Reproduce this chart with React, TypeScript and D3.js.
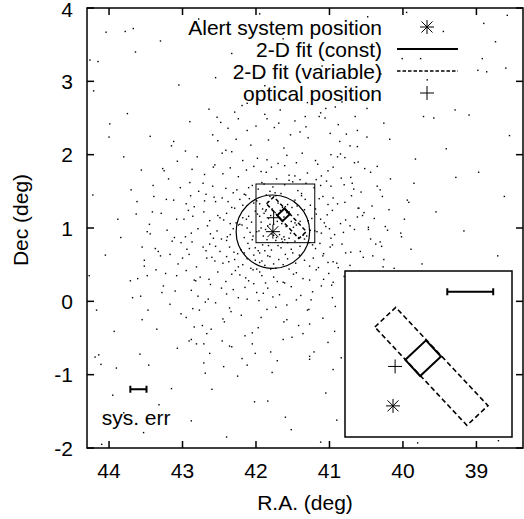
import React from "react";
import * as d3 from "d3";

const W = 524;
const H = 519;

// Axis ticks
const raTicks = [44, 43, 42, 41, 40, 39];
const decTicks = [-2, -1, 0, 1, 2, 3, 4];
const raDomain: [number, number] = [44.3, 38.366];
const decDomain: [number, number] = [-2, 4];

// Positions (R.A., Dec)
const alertPos: [number, number] = [41.77, 0.95];
const opticalPos: [number, number] = [41.76, 1.14];
const errorRadius = 0.5;

// Fitted source regions, corner lists (R.A., Dec)
const fitConst: [number, number][] = [
  [41.711, 1.172], [41.612, 1.266], [41.54, 1.188], [41.64, 1.094],
];
const fitVariable: [number, number][] = [
  [41.857, 1.33], [41.757, 1.425], [41.315, 0.951], [41.416, 0.856],
];

// Zoomed region shown in the inset
const zoomRA: [number, number] = [42.0, 41.2];
const zoomDec: [number, number] = [0.8, 1.6];

// Systematic error bars
const sysErrHalf = 0.11;
const sysErrMain: [number, number] = [43.6, -1.2];
const sysErrInset: [number, number] = [41.4, 1.5];
const sysErrLabelPos: [number, number] = [44.1, -1.68];

const legendLabels = [
  "Alert system position",
  "2-D fit (const)",
  "2-D fit (variable)",
  "optical position",
];

// Event directions around the alert position
const cloudDots: [number, number][] = [
  [42.12,-0.87],
  [42.36,-0.61],[41.80,-0.69],
  [42.05,-0.43],[42.61,-0.38],[41.51,-0.49],[42.88,-0.52],
  [42.20,-0.19],[41.62,-0.28],[42.73,-0.33],[41.93,-0.22],[41.27,-0.31],[42.45,-0.24],[43.02,-0.17],
  [41.73,-0.08],[42.55,-0.02],[41.30,-0.12],[42.12,0.03],[42.86,-0.10],[41.58,-0.05],[42.34,-0.14],[41.96,0.01],[40.92,-0.07],[42.69,-0.01],[41.85,-0.11],[43.17,-0.04],[41.45,0.02],
  [41.68,0.09],[42.47,0.18],[41.23,0.13],[42.03,0.24],[42.79,0.07],[41.52,0.20],[41.90,0.11],[42.31,0.16],[40.97,0.22],[41.77,0.06],[43.10,0.14],[42.15,0.19],[41.39,0.08],[42.62,0.23],[41.99,0.12],[40.68,0.17],[42.40,0.10],[41.61,0.25],[42.88,0.15],[41.11,0.21],[42.24,0.05],[41.84,0.18],
  [42.10,0.28],[41.45,0.39],[42.76,0.33],[41.80,0.44],[41.08,0.30],[42.33,0.37],[41.63,0.26],[42.95,0.42],[41.92,0.35],[41.27,0.29],[42.52,0.40],[40.80,0.34],[42.04,0.43],[41.71,0.27],[43.23,0.38],[41.36,0.31],[42.22,0.36],[41.87,0.25],[40.59,0.41],[42.64,0.30],[41.55,0.44],[42.14,0.32],[41.01,0.38],[42.41,0.27],[41.95,0.40],[43.48,0.35],[41.18,0.43],[41.76,0.33],[42.84,0.29],[41.49,0.37],[40.95,0.26],[42.28,0.42],
  [41.27,0.48],[42.40,0.61],[41.95,0.53],[40.88,0.46],[42.12,0.58],[41.60,0.64],[43.06,0.51],[41.73,0.45],[42.56,0.55],[41.09,0.62],[41.88,0.49],[42.29,0.57],[40.54,0.60],[41.46,0.52],[42.81,0.47],[42.03,0.63],[41.34,0.56],[41.99,0.44],[42.67,0.59],[40.95,0.54],[41.81,0.61],[42.18,0.50],[41.57,0.58],[43.30,0.62],[41.15,0.46],[42.45,0.52],[41.69,0.57],[40.72,0.49],[42.91,0.64],[41.92,0.55],[41.41,0.63],[42.24,0.47],[41.76,0.51],[42.60,0.60],[41.02,0.53],[42.07,0.45],[40.26,0.57],[41.63,0.50],[42.37,0.54],[41.84,0.62],[43.52,0.48],[41.22,0.59],[42.01,0.56],
  [41.88,0.69],[42.63,0.78],[41.19,0.72],[42.05,0.84],[40.71,0.67],[41.57,0.80],[42.36,0.74],[41.95,0.66],[43.14,0.82],[41.40,0.75],[42.20,0.70],[41.73,0.83],[40.96,0.77],[42.49,0.68],[41.66,0.73],[42.87,0.81],[41.08,0.65],[42.11,0.79],[41.52,0.71],[40.44,0.85],[41.83,0.76],[42.30,0.67],[41.28,0.80],[42.72,0.74],[41.97,0.69],[41.61,0.84],[43.37,0.72],[40.83,0.78],[42.16,0.66],[41.47,0.82],[42.55,0.75],[41.79,0.70],[41.13,0.79],[42.01,0.73],[40.58,0.68],[42.40,0.83],[41.70,0.76],[42.94,0.71],[41.34,0.85],[41.91,0.77],[42.25,0.65],[40.99,0.74],[41.64,0.81],[42.68,0.69],[41.23,0.77],[42.09,0.72],[41.50,0.66],[43.02,0.80],[41.85,0.84],[40.29,0.75],
  [41.62,0.88],[42.31,0.99],[40.93,0.91],[41.84,1.03],[42.58,0.86],[41.17,0.95],[42.04,0.89],[41.49,1.01],[42.88,0.93],[41.72,0.87],[40.66,0.98],[42.19,1.04],[41.36,0.90],[41.96,0.96],[42.47,0.85],[41.05,1.02],[41.79,0.92],[43.21,0.97],[41.55,0.86],[42.12,1.00],[40.81,0.94],[41.90,0.89],[42.66,1.03],[41.26,0.97],[41.68,0.91],[42.39,0.88],[40.47,1.01],[41.99,0.95],[41.42,0.87],[42.79,0.99],[41.11,0.93],[42.24,1.04],[41.76,0.90],[40.98,0.86],[42.53,0.96],[41.59,1.02],[43.44,0.92],[41.87,0.98],[41.31,0.89],[42.08,0.94],[40.72,1.03],[41.65,0.85],[42.35,0.91],[41.93,1.00],[41.20,0.96],[42.96,0.88],[41.53,0.93],[40.21,0.97],[42.16,0.87],[41.81,1.05],[41.00,0.99],[42.62,0.92],[41.45,1.04],
  [41.93,1.08],[41.18,1.19],[42.44,1.11],[41.67,1.24],[40.85,1.06],[42.10,1.16],[41.40,1.09],[42.71,1.22],[41.83,1.13],[41.03,1.18],[42.27,1.07],[41.58,1.21],[43.08,1.12],[41.76,1.05],[40.62,1.15],[42.01,1.23],[41.29,1.10],[42.52,1.17],[41.89,1.20],[41.47,1.07],[42.18,1.14],[40.96,1.24],[41.71,1.09],[42.86,1.16],[41.12,1.12],[41.98,1.19],[42.35,1.06],[41.55,1.22],[40.39,1.13],[41.80,1.17],[42.63,1.10],[41.34,1.25],[42.06,1.08],[41.62,1.15],[43.29,1.20],[40.78,1.11],[41.87,1.23],[42.22,1.05],[41.43,1.18],[42.49,1.14],[41.07,1.07],[41.74,1.21],[40.55,1.17],[42.13,1.12],[41.52,1.09],[42.92,1.24],[41.95,1.16],[41.24,1.13],[42.40,1.20],[41.65,1.06],
  [41.51,1.28],[42.22,1.39],[40.89,1.33],[41.78,1.26],[42.57,1.42],[41.26,1.31],[41.99,1.37],[42.84,1.29],[41.38,1.44],[41.70,1.34],[40.60,1.27],[42.09,1.40],[41.57,1.32],[42.38,1.36],[41.09,1.43],[41.86,1.25],[43.12,1.38],[41.44,1.30],[42.14,1.45],[40.79,1.35],[41.64,1.28],[42.46,1.41],[41.95,1.33],[41.19,1.26],[42.70,1.37],[41.81,1.43],[40.42,1.30],[42.03,1.34],[41.33,1.39],[42.29,1.27],[41.73,1.44],[41.02,1.32],[42.55,1.36],[41.60,1.29],[40.95,1.41],[41.91,1.26],[42.95,1.33],[41.47,1.38],[42.18,1.31],[40.70,1.44],[41.84,1.35],[42.33,1.28],[41.14,1.40],
  [41.74,1.48],[40.98,1.57],[42.26,1.52],[41.50,1.63],[42.68,1.46],[41.21,1.55],[41.89,1.60],[40.57,1.49],[42.05,1.58],[41.43,1.51],[42.90,1.62],[41.66,1.47],[41.04,1.64],[42.41,1.54],[41.81,1.50],[40.80,1.59],[42.16,1.46],[41.32,1.61],[41.97,1.53],[42.59,1.57],[41.55,1.65],[40.31,1.52],[41.77,1.56],[42.31,1.48],[41.12,1.58],[41.92,1.62],[42.78,1.50],[41.38,1.47],[40.69,1.61],[42.10,1.55],[41.61,1.59],[41.86,1.45],
  [41.47,1.71],[42.13,1.79],[40.84,1.68],[41.79,1.83],[42.45,1.74],[41.18,1.66],[41.93,1.77],[40.52,1.81],[42.24,1.70],[41.61,1.85],[42.70,1.73],[41.02,1.78],[41.72,1.67],[42.35,1.82],[41.30,1.75],[40.71,1.69],[42.03,1.84],[41.55,1.72],[42.87,1.80],[41.86,1.76],[40.95,1.83],[41.40,1.66],
  [41.70,1.88],[40.89,1.97],[42.18,1.92],[41.37,2.02],[42.56,1.86],[41.58,1.99],[40.61,1.90],[41.98,1.95],[41.16,1.87],[42.33,2.04],[41.85,1.93],[40.98,2.00],[41.45,1.89],
  [41.62,2.09],[40.86,2.18],[42.07,2.13],[41.29,2.23],[42.41,2.06],[41.83,2.20],[40.62,2.11],
  [41.40,2.31],[42.00,2.39],[40.77,2.28],[41.69,2.43],
  [41.12,2.57],[41.85,2.49],
  [41.30,2.71],
];

// Broader halo of events around the cloud
const haloDots: [number, number][] = [
  [40.35,1.84],[43.28,0.12],[40.12,0.45],[42.96,2.05],[40.64,-0.32],[43.41,1.22],[39.98,1.12],[42.71,-0.58],[40.88,2.41],[43.55,0.74],
  [40.21,-0.12],[42.38,2.36],[41.02,-0.56],[43.19,1.67],[40.47,0.98],[42.84,-0.35],[40.72,2.12],[43.36,0.43],[39.89,0.71],[42.52,2.19],
  [40.93,-0.41],[43.07,1.91],[40.28,1.43],[42.63,-0.71],[41.14,2.52],[43.48,0.95],[40.05,0.23],[42.29,2.58],[40.58,-0.61],[43.22,1.39],
  [40.41,0.62],[42.77,-0.12],[40.99,2.29],[43.61,0.31],[40.17,1.67],[42.48,2.44],[41.21,-0.69],[43.03,1.55],[40.53,1.21],[42.91,-0.54],
  [40.79,1.96],[43.33,0.68],[39.94,1.38],[42.59,2.27],[41.09,-0.23],[43.15,2.12],[40.31,0.81],[42.67,-0.44],[40.62,2.33],[43.45,1.05],
  [40.08,-0.31],[42.19,2.67],[40.84,-0.77],[43.27,1.81],[40.46,0.37],[42.95,-0.22],[41.05,2.63],[43.52,0.56],[40.24,1.02],[42.33,-0.62],
  [41.47,2.46],[42.05,-0.58],[41.88,2.55],[41.36,-0.44],[42.24,2.49],[41.63,-0.52],[40.96,0.05],[42.58,1.83],[41.19,1.92],[42.82,0.28],
  [40.67,1.53],[42.43,-0.28],[41.75,2.37],[41.97,-0.36],[40.78,0.66],[43.11,0.87],[41.53,2.27],[42.15,-0.47],[40.44,1.76],[42.72,1.61],
  [41.28,-0.11],[43.00,0.59],[40.85,2.01],[42.36,-0.09],[41.67,2.61],[42.01,-0.71],[40.56,0.14],[42.89,1.44],[41.42,-0.33],[43.26,0.21],
  [40.61,1.27],[42.46,2.02],[40.90,0.52],[42.65,0.03],[41.11,1.71],[42.98,1.12],[40.73,-0.05],[42.27,2.21],[41.32,2.38],[43.08,0.35],
  [40.37,0.78],[42.80,1.97],[41.58,-0.25],[42.12,2.33],[40.66,1.89],[43.17,0.64],[41.25,0.02],[42.53,2.51],[40.49,2.24],[43.39,1.43],
  [40.19,1.25],[43.63,1.19],[40.03,0.93],[43.57,0.07],[40.26,2.43],[43.44,2.25],[40.14,-0.52],[43.35,-0.38],[39.85,1.61],[43.70,1.52],
  [41.71,-0.81],[41.44,2.79],[42.44,-0.89],[40.83,2.72],[43.47,-0.12],[39.95,0.38],
];

// Sparse events over the whole field
const fieldDots: [number, number][] = [
  [44.04,3.67],[43.78,3.68],[43.67,3.72],[43.64,3.40],[44.26,3.29],[44.15,3.27],[44.21,2.87],[43.75,2.56],[43.99,2.42],[44.00,2.24],[43.80,1.97],[43.56,1.79],[43.25,1.78],
  [44.19,-0.76],[44.14,-0.73],[44.11,-0.86],[43.90,-0.91],[43.58,-0.72],[43.46,-0.87],[43.07,-0.64],[42.81,-0.58],[42.71,-0.84],[42.69,-0.98],[42.46,-0.54],[42.19,-0.78],[43.15,-1.19],[42.02,-1.37],[43.53,-1.79],
  [41.27,-0.75],[41.27,-0.79],[41.78,-0.97],[40.95,-0.93],[41.84,-1.36],[41.52,-1.75],
  [38.90,3.79],[38.74,3.54],[38.92,3.31],[38.60,3.18],[38.98,3.15],[38.86,3.13],[42.33,3.38],[42.02,3.20],[40.01,3.31],[39.76,3.31],[39.67,3.02],[41.33,2.52],[41.06,2.50],[40.65,2.52],[40.49,2.63],[39.72,2.52],[39.58,2.50],[39.29,2.61],[39.10,2.54],[42.12,2.70],[40.92,2.65],
  [44.22,1.45],[43.88,1.12],[44.05,0.63],[43.71,0.28],[44.17,-0.12],[43.93,-0.41],[43.62,1.36],[43.84,0.87],[44.27,0.35],[43.55,-0.25],[43.40,1.58],[43.68,0.05],
  [40.18,2.21],[39.83,1.94],[39.41,2.08],[38.97,1.76],[38.62,1.43],[39.55,1.22],[40.02,0.88],[39.17,0.96],[38.71,0.62],[39.74,0.51],[40.35,1.57],[39.28,1.69],[38.55,2.26],[40.27,0.47],[39.92,1.35],
  [42.78,3.85],[41.95,3.92],[41.20,3.77],[40.48,3.88],[40.96,3.46],[41.63,3.58],[42.55,3.05],[40.30,3.10],[41.88,2.94],[40.72,2.86],[43.05,2.95],[43.30,3.55],[41.10,3.21],[39.45,3.68],[38.58,3.90],[39.95,3.94],
  [42.90,2.45],[43.12,2.18],[42.64,2.62],
  [43.80,-1.52],[43.32,-1.41],[42.88,-1.63],[42.40,-1.85],[41.60,-1.58],[41.12,-1.92],[42.60,-1.20],[44.10,-1.95],[43.95,-1.28],[41.05,-1.25],[42.25,-1.02],[40.90,-1.62],
  [39.80,-1.93],[38.70,-1.90],
];

const FONT = "'Liberation Sans', Arial, Helvetica, sans-serif";
const FS = 21;

// Plot frame
const M = { left: 87, right: 523, top: 8, bottom: 448 };
// Inset frame
const INS = { left: 345, right: 512, top: 271, bottom: 437 };

type Scale = d3.ScaleLinear<number, number>;

function asteriskPath(cx: number, cy: number, s = 7, d = 5.5) {
  return `M${cx - s},${cy}H${cx + s}M${cx},${cy - s}V${cy + s}` +
    `M${cx - d},${cy - d}L${cx + d},${cy + d}M${cx - d},${cy + d}L${cx + d},${cy - d}`;
}
function plusPath(cx: number, cy: number, s = 7) {
  return `M${cx - s},${cy}H${cx + s}M${cx},${cy - s}V${cy + s}`;
}
function polyPath(pts: [number, number][], x: Scale, y: Scale) {
  const line = d3.line<[number, number]>().x((p) => x(p[0])).y((p) => y(p[1]));
  return line(pts) + "Z";
}
function errBar(c: [number, number], half: number, x: Scale, y: Scale, cap = 3.5) {
  const x0 = x(c[0] + half), x1 = x(c[0] - half), yy = y(c[1]);
  return `M${x0},${yy}H${x1}M${x0},${yy - cap}V${yy + cap}M${x1},${yy - cap}V${yy + cap}`;
}

export default function App() {
  const x = d3.scaleLinear().domain(raDomain).range([M.left, M.right]);
  const y = d3.scaleLinear().domain(decDomain).range([M.bottom, M.top]);
  const xi = d3.scaleLinear().domain(zoomRA).range([INS.left, INS.right]);
  const yi = d3.scaleLinear().domain(zoomDec).range([INS.bottom, INS.top]);

  const allDots = cloudDots.concat(haloDots, fieldDots);
  const tick = 7;
  const legendX = 382;
  const legendY = [35, 57, 79, 101];
  const sampleX0 = 397, sampleX1 = 458, markX = 427;

  return (
    <svg
      width={W}
      height={H}
      viewBox={`0 0 ${W} ${H}`}
      style={{ position: "absolute", left: 0, top: 0, background: "#fff" }}
      fontFamily={FONT}
      fontSize={FS}
    >
      <rect width={W} height={H} fill="#fff" />
      <defs>
        <clipPath id="plotClip">
          <rect x={M.left} y={M.top} width={M.right - M.left} height={M.bottom - M.top} />
        </clipPath>
        <clipPath id="insetClip">
          <rect x={INS.left} y={INS.top} width={INS.right - INS.left} height={INS.bottom - INS.top} />
        </clipPath>
      </defs>

      {/* event dots */}
      <g clipPath="url(#plotClip)" fill="#000">
        {allDots.map((p, i) => (
          <rect key={i} x={x(p[0]) - 0.7} y={y(p[1]) - 0.7} width={1.4} height={1.4} />
        ))}
      </g>

      {/* error circle, zoom box, fitted regions, markers */}
      <g fill="none" stroke="#000" clipPath="url(#plotClip)">
        <ellipse
          cx={x(alertPos[0])}
          cy={y(alertPos[1])}
          rx={Math.abs(x(alertPos[0] + errorRadius) - x(alertPos[0]))}
          ry={Math.abs(y(alertPos[1] + errorRadius) - y(alertPos[1]))}
          strokeWidth={1.2}
        />
        <rect
          x={x(zoomRA[0])}
          y={y(zoomDec[1])}
          width={x(zoomRA[1]) - x(zoomRA[0])}
          height={y(zoomDec[0]) - y(zoomDec[1])}
          strokeWidth={1}
        />
        <path d={polyPath(fitVariable, x, y)} strokeWidth={1.5} strokeDasharray="4,2.5" />
        <path d={polyPath(fitConst, x, y)} strokeWidth={2} />
        <path d={asteriskPath(x(alertPos[0]), y(alertPos[1]))} strokeWidth={1} />
        <path d={plusPath(x(opticalPos[0]), y(opticalPos[1]))} strokeWidth={1} />
        <path d={errBar(sysErrMain, sysErrHalf, x, y)} strokeWidth={2} />
      </g>
      <text x={x(sysErrLabelPos[0])} y={y(sysErrLabelPos[1])} textAnchor="start">sys. err</text>

      {/* legend */}
      <g>
        {legendLabels.map((t, i) => (
          <text key={t} x={legendX} y={legendY[i]} textAnchor="end">{t}</text>
        ))}
        <g fill="none" stroke="#000">
          <path d={asteriskPath(markX, legendY[0] - 8)} strokeWidth={1} />
          <line x1={sampleX0} x2={sampleX1} y1={legendY[1] - 8} y2={legendY[1] - 8} strokeWidth={2} />
          <line x1={sampleX0} x2={sampleX1} y1={legendY[2] - 8} y2={legendY[2] - 8} strokeWidth={1.3} strokeDasharray="3.5,2" />
          <path d={plusPath(markX, legendY[3] - 8)} strokeWidth={1} />
        </g>
      </g>

      {/* frame and ticks */}
      <g stroke="#000" strokeWidth={1.5} fill="none">
        <rect x={M.left} y={M.top} width={M.right - M.left} height={M.bottom - M.top} />
        {raTicks.map((t) => (
          <g key={"x" + t}>
            <line x1={x(t)} x2={x(t)} y1={M.bottom} y2={M.bottom - tick} />
            <line x1={x(t)} x2={x(t)} y1={M.top} y2={M.top + tick} />
          </g>
        ))}
        {decTicks.map((t) => (
          <g key={"y" + t}>
            <line x1={M.left} x2={M.left + tick} y1={y(t)} y2={y(t)} />
            <line x1={M.right} x2={M.right - tick} y1={y(t)} y2={y(t)} />
          </g>
        ))}
      </g>
      <g>
        {raTicks.map((t) => (
          <text key={"xl" + t} x={x(t)} y={M.bottom + 30} textAnchor="middle">{t}</text>
        ))}
        {decTicks.map((t) => (
          <text key={"yl" + t} x={M.left - 14} y={Math.max(y(t) + 7.5, 17)} textAnchor="end">{t}</text>
        ))}
      </g>
      <text x={(M.left + M.right) / 2} y={510} textAnchor="middle">R.A. (deg)</text>
      <text transform={`translate(28, ${(M.top + M.bottom) / 2 - 8}) rotate(-90)`} textAnchor="middle">Dec (deg)</text>

      {/* inset: close-up of the boxed region */}
      <g>
        <rect
          x={INS.left}
          y={INS.top}
          width={INS.right - INS.left}
          height={INS.bottom - INS.top}
          fill="#fff"
          stroke="#000"
          strokeWidth={1.5}
        />
        <g clipPath="url(#insetClip)" fill="none" stroke="#000">
          <path d={polyPath(fitVariable, xi, yi)} strokeWidth={1.6} strokeDasharray="5,3" />
          <path d={polyPath(fitConst, xi, yi)} strokeWidth={2} />
          <path d={asteriskPath(xi(alertPos[0]), yi(alertPos[1]))} strokeWidth={1} />
          <path d={plusPath(xi(opticalPos[0]), yi(opticalPos[1]))} strokeWidth={1} />
          <path d={errBar(sysErrInset, sysErrHalf, xi, yi)} strokeWidth={2} />
        </g>
      </g>
    </svg>
  );
}
